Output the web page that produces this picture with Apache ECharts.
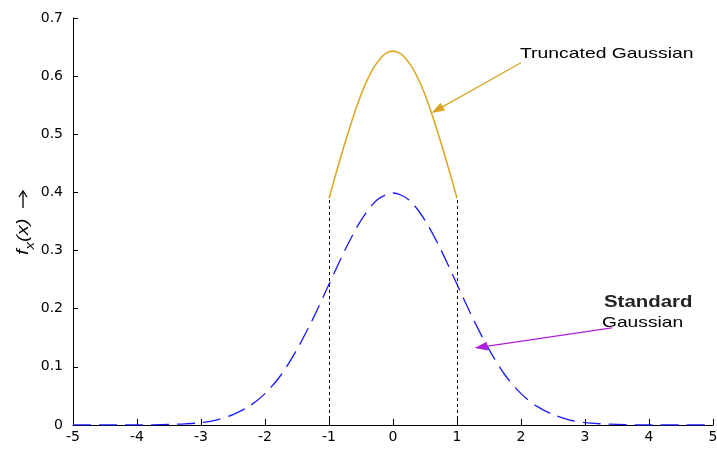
<!DOCTYPE html>
<html>
<head>
<meta charset="utf-8">
<script src="https://cdn.jsdelivr.net/npm/echarts@6/dist/echarts.min.js"></script>
<style>
html,body{margin:0;padding:0;background:#fff;}
#main{width:717px;height:450px;}
</style>
</head>
<body>
<div id="main"></div>
<script>
// standard gaussian (x, f(x))
var stdX = [-5,-4.5,-4,-3.5,-3.25,-3,-2.75,-2.5,-2.25,-2,-1.75,-1.5,-1.25,-1,-0.75,-0.5,-0.25,0,
            0.25,0.5,0.75,1,1.25,1.5,1.75,2,2.25,2.5,2.75,3,3.25,3.5,4,4.5,5];
var stdY = [0,0,0,0.001,0.002,0.004,0.009,0.018,0.032,0.054,0.086,0.130,0.183,0.242,0.301,0.352,0.387,0.399,
            0.387,0.352,0.301,0.242,0.183,0.130,0.086,0.054,0.032,0.018,0.009,0.004,0.002,0.001,0,0,0];
// truncated gaussian on [-1, 1]
var truncX = [-1,-0.9,-0.8,-0.7,-0.6,-0.5,-0.4,-0.3,-0.2,-0.1,0,0.1,0.2,0.3,0.4,0.5,0.6,0.7,0.8,0.9,1];
var truncY = [0.390,0.429,0.467,0.503,0.537,0.568,0.594,0.615,0.630,0.640,0.643,
              0.640,0.630,0.615,0.594,0.568,0.537,0.503,0.467,0.429,0.390];
// truncation edges and annotation arrows
var edgeX = [-1, 1];
var edgeTop = 0.392;
var truncArrow = [[2.0, 0.623], [0.69, 0.542]];
var stdArrow = [[3.42, 0.167], [1.375, 0.134]];
var xTicks = [-5,5,1];
var yTicks = [0,0.7,0.1];

function pairs(xs, ys) {
	var out = [];
	for (var i=0;i<xs.length;++i) out.push([xs[i], ys[i]]);
	return out;
}

var chart = echarts.init(document.getElementById('main'));
var font = 'Liberation Sans, Arial, sans-serif';
var tickFont = 'DejaVu Sans, sans-serif';

var edgeLines = [];
for (var i=0;i<edgeX.length;++i) {
	edgeLines.push([{coord:[edgeX[i],0]},{coord:[edgeX[i],edgeTop]}]);
}

var option = {
	animation: false,
	grid: {left:73, right:4, top:18, bottom:25, outerBoundsMode:'none', containLabel:false},
	xAxis: {
		type:'value', min:xTicks[0], max:xTicks[1], interval:xTicks[2],
		axisLine:{onZero:false, lineStyle:{color:'#000', width:1}},
		axisTick:{inside:true, length:6, lineStyle:{color:'#000'}},
		axisLabel:{color:'#000', fontFamily:tickFont, fontSize:14, margin:5, showMaxLabel:true, showMinLabel:true},
		splitLine:{show:false}
	},
	yAxis: {
		type:'value', min:yTicks[0], max:yTicks[1], interval:yTicks[2],
		axisLine:{show:true, onZero:false, lineStyle:{color:'#000', width:1}},
		axisTick:{show:true, inside:true, length:5, lineStyle:{color:'#000'}},
		axisLabel:{color:'#000', fontFamily:tickFont, fontSize:14, margin:10},
		splitLine:{show:false}
	},
	series: [
		{
			type:'line', data:pairs(stdX, stdY), showSymbol:false, smooth:0.3,
			lineStyle:{color:'#1a1aff', width:1.3, type:[18,8]},
			z:3
		},
		{
			type:'line', data:pairs(truncX, truncY), showSymbol:false, smooth:0.3,
			lineStyle:{color:'#dcaa2a', width:1.6},
			markLine:{
				silent:true, animation:false,
				symbol:['none','none'],
				label:{show:false},
				lineStyle:{color:'#000', type:[3,3], width:1},
				data:edgeLines
			},
			z:4
		},
		{
			type:'line', data:[],
			markLine:{
				silent:true, animation:false,
				symbol:['none','triangle'], symbolSize:[9,13],
				label:{show:false},
				data:[
					[{coord:truncArrow[0], lineStyle:{color:'#d9a520', width:1.3, type:'solid'}, itemStyle:{color:'#d9a520'}},
					 {coord:truncArrow[1]}],
					[{coord:stdArrow[0], lineStyle:{color:'#b020d8', width:1.3, type:'solid'}, itemStyle:{color:'#b020d8'}},
					 {coord:stdArrow[1]}]
				]
			}
		}
	],
	graphic: [
		{type:'text', x:520, y:46, scaleX:1.29, style:{text:'Truncated Gaussian', fontFamily:font, fontSize:15, fill:'#000'}},
		{type:'text', x:604, y:294, scaleX:1.2, style:{text:'Standard', fontFamily:font, fontSize:17, fontWeight:'bold', fill:'#222'}},
		{type:'text', x:602, y:315, scaleX:1.28, style:{text:'Gaussian', fontFamily:font, fontSize:15, fill:'#000'}},
		{type:'text', x:24, y:255, rotation:Math.PI/2, scaleX:1.25,
			style:{
				text:'{f|f}{s|x}{f|(x)}',
				verticalAlign:'middle',
				rich:{
					f:{fontFamily:font, fontSize:16, fontStyle:'italic', fill:'#000'},
					s:{fontFamily:font, fontSize:12, fontStyle:'italic', fill:'#000', padding:[14,0,0,0]}
				}
			}
		},
		{type:'line', shape:{x1:23, y1:208, x2:23, y2:191}, style:{stroke:'#000', lineWidth:1.3}},
		{type:'polyline', shape:{points:[[19,197],[23,191],[27,197]]}, style:{stroke:'#000', lineWidth:1.3, fill:null}}
	]
};
chart.setOption(option);
</script>
</body>
</html>
